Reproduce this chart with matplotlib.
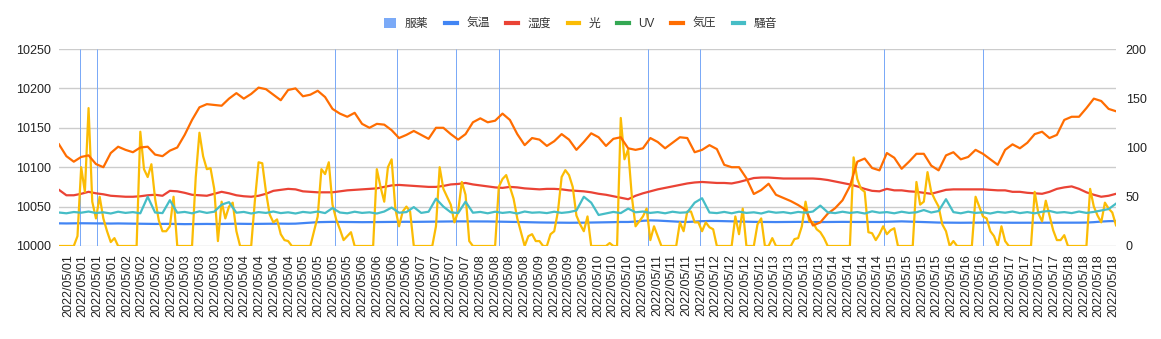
import numpy as np
import matplotlib
matplotlib.use("Agg")
import matplotlib.pyplot as plt
from matplotlib.lines import Line2D
from matplotlib.patches import Patch

plt.rcParams['font.family'] = ['Liberation Sans', 'Noto Sans CJK JP', 'DejaVu Sans']

# Logger readings from 2022/05/01 00:00; most channels every 3 hours,
# the light sensor every 1.5 hours
STEP_H = 3
LIGHT_STEP_H = 1.5

pressure = [
    10129, 10114, 10107, 10113, 10115, 10104, 10100, 10118, 10126, 10122,
    10119, 10125, 10126, 10116, 10114, 10121, 10125, 10141, 10160, 10176,
    10180, 10179, 10178, 10187, 10194, 10187, 10193, 10201, 10199, 10192,
    10185, 10198, 10200, 10190, 10192, 10197, 10189, 10174, 10168, 10164,
    10169, 10155, 10150, 10155, 10154, 10147, 10137, 10141, 10146, 10141,
    10136, 10150, 10150, 10142, 10135, 10142, 10157, 10162, 10157, 10159,
    10168, 10160, 10142, 10128, 10137, 10135, 10127, 10133, 10142, 10135,
    10122, 10132, 10143, 10138, 10127, 10136, 10138, 10124, 10122, 10124,
    10137, 10132, 10124, 10131, 10138, 10137, 10119, 10122, 10128, 10123,
    10103, 10100, 10100, 10086, 10066, 10071, 10079, 10065, 10061, 10057,
    10052, 10046, 10026, 10030, 10041, 10048, 10058, 10076, 10107, 10111,
    10099, 10096, 10118, 10112, 10098, 10107, 10117, 10117, 10102, 10096,
    10115, 10119, 10110, 10113, 10122, 10117, 10110, 10103, 10122, 10129,
    10124, 10131, 10142, 10145, 10137, 10141, 10160, 10164, 10164, 10175,
    10187, 10184, 10174, 10171,
]

humidity = [
    57, 51.5, 51.5, 53, 55, 53.5, 52.5, 51, 50.5, 50,
    50, 50.5, 51.5, 52, 51, 56, 55.5, 54, 52, 51.5,
    51, 53, 55, 53.5, 51.5, 50.5, 50, 51, 53, 56,
    57, 58, 57.5, 55.5, 55, 54.5, 54.5, 54.5, 55.5, 56.5,
    57, 57.5, 58, 58.5, 60, 61.5, 62, 61.5, 61, 60.5,
    60, 60, 61, 62.5, 63, 64, 62.5, 61.5, 60.5, 59.5,
    59, 60, 59.5, 58.5, 58, 57.5, 58, 58, 57.5, 56.5,
    56, 55.5, 54.5, 53, 52, 50.5, 49, 47.5, 51, 53.5,
    55.5, 57.5, 59, 60.5, 62, 63.5, 64.5, 65, 64.5, 64,
    64, 63.5, 65, 67, 69, 69.5, 69.5, 69, 68.5, 68.5,
    68.5, 68.5, 68.5, 68, 67, 65.5, 64, 62.5, 60.5, 58,
    56, 55.5, 58, 56.5, 56.5, 55.5, 55, 54, 53, 55,
    57, 57.5, 57.5, 57.5, 57.5, 57.5, 57, 56.5, 56.5, 55,
    55, 54, 53.5, 53, 55, 58, 59.5, 60.5, 58, 54.5,
    52, 50, 51, 53,
]

temperature = [
    23.0, 22.9, 23.0, 23.1, 23.0, 22.8, 22.7, 22.8, 22.9, 22.8,
    22.6, 22.5, 22.4, 22.4, 22.5, 22.5, 22.3, 22.2, 22.3, 22.5,
    22.4, 22.3, 22.4, 22.6, 22.6, 22.5, 22.4, 22.5, 22.6, 22.8,
    22.7, 22.6, 22.7, 23.2, 23.8, 24.2, 24.4, 24.5, 24.4, 24.3,
    24.3, 24.2, 24.2, 24.3, 24.4, 24.5, 24.6, 24.6, 24.5, 24.6,
    24.7, 24.7, 24.8, 24.9, 25.0, 25.0, 25.0, 24.9, 24.9, 24.8,
    24.8, 24.6, 24.4, 24.2, 24.0, 23.9, 23.8, 23.7, 23.7, 23.6,
    23.6, 23.7, 23.8, 23.9, 24.0, 24.2, 24.4, 24.4, 24.8, 25.6,
    26.0, 25.8, 25.4, 25.0, 24.6, 24.4, 24.8, 25.2, 25.4, 25.4,
    25.2, 25.0, 24.8, 24.6, 24.5, 24.4, 24.4, 24.3, 24.4, 24.4,
    24.5, 24.4, 24.3, 24.3, 24.4, 24.4, 24.5, 24.4, 24.4, 24.4,
    24.3, 24.4, 24.6, 24.8, 25.0, 24.8, 24.6, 24.3, 24.0, 23.8,
    23.7, 23.6, 23.6, 23.6, 23.7, 23.8, 23.8, 23.7, 23.6, 23.6,
    23.6, 23.6, 23.6, 23.5, 23.5, 23.6, 23.6, 23.6, 23.7, 23.8,
    24.2, 24.8, 25.2, 25.4,
]

light = [
    0, 0, 0, 0, 0, 10, 80, 55, 140, 45,
    28, 50, 28, 15, 4, 8, 0, 0, 0, 0,
    0, 0, 116, 78, 70, 83, 48, 26, 15, 15,
    20, 50, 0, 0, 0, 0, 0, 70, 115, 91,
    78, 79, 58, 5, 45, 28, 40, 44, 15, 0,
    0, 0, 0, 46, 85, 84, 55, 32, 24, 27,
    12, 6, 5, 0, 0, 0, 0, 0, 0, 15,
    30, 78, 73, 85, 42, 27, 17, 6, 10, 14,
    0, 0, 0, 0, 0, 0, 78, 60, 45, 80,
    88, 38, 20, 35, 40, 35, 0, 0, 0, 0,
    0, 0, 20, 80, 58, 50, 42, 24, 35, 65,
    52, 5, 0, 0, 0, 0, 0, 0, 0, 60,
    68, 72, 60, 48, 28, 14, 0, 10, 12, 5,
    5, 0, 0, 12, 15, 35, 70, 77, 72, 60,
    31, 22, 15, 30, 0, 0, 0, 0, 0, 3,
    0, 0, 130, 88, 98, 50, 20, 25, 30, 38,
    6, 20, 10, 0, 0, 0, 0, 0, 24, 15,
    35, 35, 24, 24, 15, 24, 19, 17, 0, 0,
    0, 0, 0, 30, 12, 38, 0, 0, 0, 22,
    28, 0, 0, 8, 0, 0, 0, 0, 0, 7,
    8, 20, 45, 25, 24, 17, 14, 8, 0, 0,
    0, 0, 0, 0, 0, 90, 68, 58, 55, 14,
    13, 6, 12, 20, 12, 16, 18, 0, 0, 0,
    0, 0, 65, 42, 45, 75, 55, 47, 40, 22,
    15, 0, 5, 0, 0, 0, 0, 0, 50, 40,
    30, 28, 15, 10, 0, 20, 5, 0, 0, 0,
    0, 0, 0, 0, 55, 33, 25, 46, 31, 16,
    6, 6, 11, 0, 0, 0, 0, 0, 0, 58,
    40, 31, 24, 44, 38, 34, 21,
]

noise = [
    34.0, 33.2, 34.5, 33.8, 35.0, 33.5, 34.2, 33.0, 34.8, 33.6,
    34.4, 33.2, 50.0, 34.0, 33.4, 46.5, 33.8, 34.6, 33.2, 35.2,
    33.6, 34.8, 42.0, 44.5, 33.8, 34.6, 33.0, 34.4, 33.6, 35.0,
    33.4, 34.2, 33.0, 34.6, 33.8, 35.0, 33.4, 38.5, 34.0, 33.2,
    34.8, 33.6, 34.2, 33.0, 35.0, 39.0, 33.8, 34.4, 39.5, 33.6,
    34.8, 48.0, 40.0, 34.2, 33.4, 45.0, 33.8, 34.6, 33.2, 34.8,
    33.6, 34.4, 33.0, 35.0, 33.8, 34.2, 33.4, 34.8, 33.6, 34.4,
    36.0, 50.0, 44.0, 31.5, 33.0, 34.6, 33.4, 38.0, 34.2, 35.0,
    33.6, 34.4, 33.2, 34.8, 33.8, 34.2, 44.0, 48.5, 34.0, 33.4,
    34.6, 33.2, 34.8, 33.6, 34.2, 33.0, 35.0, 33.8, 34.4, 33.2,
    34.6, 33.8, 35.0, 41.0, 34.2, 33.4, 34.8, 33.6, 34.4, 33.0,
    35.2, 33.8, 34.4, 33.2, 34.8, 33.6, 34.2, 36.5, 34.0, 35.5,
    47.5, 34.4, 33.2, 34.8, 33.6, 34.2, 33.0, 34.6, 33.8, 35.0,
    33.4, 34.4, 33.2, 34.8, 35.6, 33.8, 34.4, 33.4, 35.0, 33.6,
    34.6, 36.0, 37.5, 43.0,
]

uv = []  # sensor recorded nothing in this period

# Medication times (hours since 2022/05/01 00:00)
med_hours = [8.5, 15.5, 112, 137, 161, 178.5, 239, 260, 335, 375]
med_dose = [1, 1, 1, 1, 1, 1, 1, 1, 1, 1]

days = ['2022/05/01', '2022/05/02', '2022/05/03', '2022/05/04', '2022/05/05',
        '2022/05/06', '2022/05/07', '2022/05/08', '2022/05/09', '2022/05/10',
        '2022/05/11', '2022/05/12', '2022/05/13', '2022/05/14', '2022/05/15',
        '2022/05/16', '2022/05/17', '2022/05/18']
LABELS_PER_DAY = 4
tick_labels = [d for d in days for _ in range(LABELS_PER_DAY)]

hours = np.arange(len(pressure)) * STEP_H
light_hours = np.arange(len(light)) * LIGHT_STEP_H

C_MED = '#7BAAF7'
C_TEMP = '#4285F4'
C_HUM = '#EA4335'
C_LIGHT = '#FBBC04'
C_UV = '#34A853'
C_PRES = '#FF6D01'
C_NOISE = '#46BDC6'
TXT = '#222222'
LW = 1.6

W, H = 1161, 339
fig = plt.figure(figsize=(W / 100, H / 100), dpi=100)
ax = fig.add_axes([59 / W, 93 / H, 1057 / W, 197 / H])

ax.set_xlim(hours[0], hours[-1])
ax.set_ylim(10000, 10250)
ax.set_yticks(np.arange(10000, 10251, 50))
ax.grid(axis='y', color='#cccccc', linewidth=1.0)
ax.set_axisbelow(True)
for s in ax.spines.values():
    s.set_visible(False)
ax.tick_params(axis='both', length=0, labelsize=9, labelcolor=TXT)
ax.tick_params(axis='y', pad=6)
ax.tick_params(axis='x', pad=6)

tick_pos = np.linspace(3.65, 427.9, len(tick_labels))
ax.set_xticks(tick_pos)
ax.set_xticklabels(tick_labels, rotation=90)

# medication markers: hairline bars, outline stroked at one pixel
ax_m = ax.twinx()
ax_m.set_ylim(0, 1)
ax_m.bar(med_hours, med_dose, width=0.01, color=C_MED, edgecolor=C_MED,
         linewidth=0.72)
ax_m.axis('off')

# right-hand scale: temperature, humidity, light, UV
ax_r = ax.twinx()
ax_r.set_ylim(0, 200)
ax_r.set_yticks(np.arange(0, 201, 50))
for s in ax_r.spines.values():
    s.set_visible(False)
ax_r.tick_params(axis='y', length=0, labelsize=9, labelcolor=TXT, pad=7)
ax_r.plot(hours, temperature, color=C_TEMP, lw=LW)
ax_r.plot(hours, humidity, color=C_HUM, lw=LW)
ax_r.plot(light_hours, light, color=C_LIGHT, lw=LW)
ax_r.plot(hours[:len(uv)], uv, color=C_UV, lw=LW)

# pressure on the left-hand scale
ax_p = ax.twinx()
ax_p.set_ylim(ax.get_ylim())
ax_p.axis('off')
ax_p.plot(hours, pressure, color=C_PRES, lw=LW)

# noise on the right-hand scale, drawn last
ax_n = ax.twinx()
ax_n.set_ylim(ax_r.get_ylim())
ax_n.axis('off')
ax_n.plot(hours, noise, color=C_NOISE, lw=LW)

handles = [
    Patch(facecolor=C_MED, edgecolor='none'),
    Line2D([], [], color=C_TEMP, lw=3),
    Line2D([], [], color=C_HUM, lw=3),
    Line2D([], [], color=C_LIGHT, lw=3),
    Line2D([], [], color=C_UV, lw=3),
    Line2D([], [], color=C_PRES, lw=3),
    Line2D([], [], color=C_NOISE, lw=3),
]
names = ['服薬', '気温', '湿度', '光', 'UV', '気圧', '騒音']
leg = fig.legend(handles, names, loc='center', bbox_to_anchor=(0.5, 1 - 24 / H),
                 ncol=7, frameon=False, fontsize=8.5, handlelength=1.0,
                 handleheight=1.0, handletextpad=0.8, columnspacing=1.4)
for t in leg.get_texts():
    t.set_color('#333333')

fig.savefig('out.png', dpi=100)
